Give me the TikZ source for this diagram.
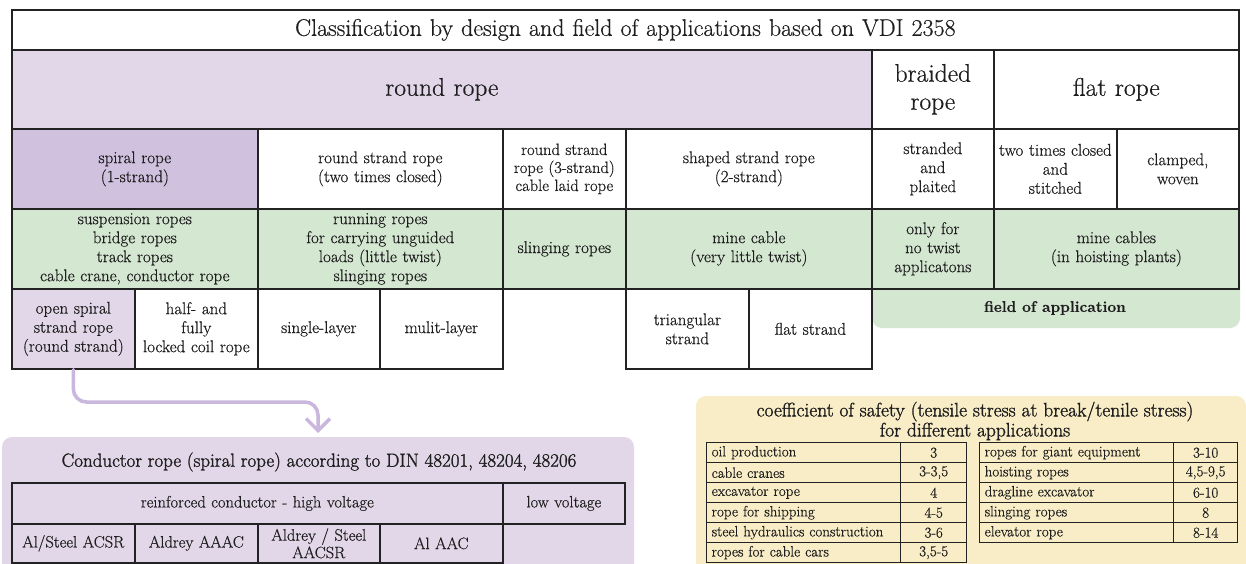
\documentclass[tikz,border=0pt]{standalone}
\usepackage{fontspec}
\setmainfont{Latin Modern Roman}[FakeBold=0.5]
\newfontfamily\semib{Latin Modern Roman}[FakeBold=1.4]
\usetikzlibrary{arrows.meta}
\definecolor{lavL}{HTML}{E2D7E8}
\definecolor{lavD}{HTML}{D0C2DF}
\definecolor{grn}{HTML}{D4E7D1}
\definecolor{yel}{HTML}{F8EDC6}
\definecolor{arr}{HTML}{C9B7DD}
\definecolor{ln}{HTML}{222222}
\definecolor{txt}{HTML}{1E1E1E}
\tikzset{
  tc/.style 2 args={draw=ln, line width=1.7pt, anchor=north west, inner sep=0pt,
    text width=#1pt, minimum height=#2pt, align=center, text=txt,
    font=\fontsize{17}{19}\selectfont},
  hdr/.style={font=\fontsize{25.5}{28}\selectfont},
  ctc/.style 2 args={tc={#1}{#2}, font=\fontsize{16.5}{17.5}\selectfont},
  yl/.style={draw=ln, line width=1.4pt, anchor=north west, inner xsep=5pt, inner ysep=0pt,
    text width=184pt, minimum height=20pt, align=left, text=txt,
    font=\fontsize{15}{15.5}\selectfont},
  yr/.style={draw=ln, line width=1.4pt, anchor=north west, inner sep=0pt,
    text width=#1pt, minimum height=20pt, align=center, text=txt,
    font=\fontsize{15}{15.5}\selectfont},
  arrowline/.style={draw=arr, line width=3.5pt, line cap=round, rounded corners=13pt,
    -{Straight Barb[length=12pt,width=24pt]}},
}
\begin{document}
\begin{tikzpicture}[x=1pt,y=-1pt]
\useasboundingbox (0,0) rectangle (1246,564);
\clip (0,0) rectangle (1246,564);
\fill[white] (0,0) rectangle (1246,564);

% background panels
\fill[grn, rounded corners=10pt] (872,270) rectangle (1240,328);
\fill[lavL, rounded corners=10pt] (2,437) rectangle (634,600);
\fill[yel, rounded corners=10pt] (696,396) rectangle (1246,600);

% title
\node[tc={1227}{40}, fill=white, font=\fontsize{24}{26}\selectfont] (title) at (11,9)
  {Classification by design and field of applications based on VDI 2358};

% row 2
\node[tc={860}{79}, fill=lavL, hdr] (round) at (11,49) {round rope};
\node[tc={122}{79}, fill=white, hdr] (braided) at (871,49) {braided\\rope};
\node[tc={245}{79}, fill=white, hdr] (flat) at (993,49) {flat rope};

% row 3
\node[tc={246}{80}, fill=lavD] (spiral) at (11,128) {spiral rope\\(1-strand)};
\node[tc={245}{80}, fill=white] (rstrand) at (257,128) {round strand rope\\(two times closed)};
\node[tc={123}{80}, fill=white, font=\fontsize{16.5}{18}\selectfont] (rthree) at (502,128) {round strand\\rope (3-strand)\\cable laid rope};
\node[tc={246}{80}, fill=white] (shaped) at (625,128) {shaped strand rope\\(2-strand)};
\node[tc={122}{80}, fill=white] (stranded) at (871,128) {stranded\\and\\plaited};
\node[tc={123}{80}, fill=white] (twotimes) at (993,128) {two times closed\\and\\stitched};
\node[tc={122}{80}, fill=white] (clamped) at (1116,128) {clamped,\\woven};

% row 4 (field of application)
\node[tc={246}{80}, fill=grn] (susp) at (11,208) {suspension ropes\\bridge ropes\\track ropes\\cable crane, conductor rope};
\node[tc={245}{80}, fill=grn] (running) at (257,208) {running ropes\\for carrying unguided\\loads (little twist)\\slinging ropes};
\node[tc={123}{80}, fill=grn] (sling) at (502,208) {slinging ropes};
\node[tc={246}{80}, fill=grn] (mine) at (625,208) {mine cable\\(very little twist)};
\node[tc={122}{80}, fill=grn] (onlyfor) at (871,208) {only for\\no twist\\applicatons};
\node[tc={245}{80}, fill=grn] (minecables) at (993,208) {mine cables\\(in hoisting plants)};

% row 5
\node[tc={123}{80}, fill=lavL] (openspiral) at (11,288) {open spiral\\strand rope\\(round strand)};
\node[tc={123}{80}, fill=white] (halffully) at (134,288) {half- and\\fully\\locked coil rope};
\node[tc={122}{80}, fill=white] (single) at (257,288) {single-layer};
\node[tc={123}{80}, fill=white] (multi) at (379,288) {mulit-layer};
\node[tc={123}{80}, fill=white] (triang) at (625,288) {triangular\\strand};
\node[tc={123}{80}, fill=white] (flatstrand) at (748,288) {flat strand};

\node[font=\bfseries\fontsize{15.5}{18}\selectfont, text=txt] (foa) at (1055,308) {field of application};

% arrow
\coordinate (bend) at (318,402);
\coordinate (arrend) at (318,433);
\draw[arrowline] (openspiral.south) |- (bend) -- (arrend);

% conductor panel
\node[font=\semib\fontsize{19}{20}\selectfont, text=txt] (condtitle) at (319,462)
  {Conductor rope (spiral rope) according to DIN 48201, 48204, 48206};
\node[ctc={491}{41}] (reinf) at (11,482) {reinforced conductor - high voltage};
\node[ctc={122}{41}] (lowv) at (502,482) {low voltage};
\node[ctc={123}{39}] (acsr) at (11,523) {Al/Steel ACSR};
\node[ctc={123}{39}] (aaac) at (134,523) {Aldrey AAAC};
\node[ctc={122}{39}] (aacsr) at (257,523) {Aldrey / Steel\\AACSR};
\node[ctc={123}{39}] (aac) at (379,523) {Al AAC};

% safety panel
\node[font=\semib\fontsize{19.5}{20}\selectfont, text=txt, align=center] (safetitle) at (975,421)
  {coefficient of safety (tensile stress at break/tenile stress)\\for different applications};

\node[yl] (l1) at (706,442) {oil production};
\node[yr=66] (v1) at (900,442) {3};
\node[yl] (l2) at (706,462) {cable cranes};
\node[yr=66] (v2) at (900,462) {3-3,5};
\node[yl] (l3) at (706,482) {excavator rope};
\node[yr=66] (v3) at (900,482) {4};
\node[yl] (l4) at (706,502) {rope for shipping};
\node[yr=66] (v4) at (900,502) {4-5};
\node[yl] (l5) at (706,522) {steel hydraulics construction};
\node[yr=66] (v5) at (900,522) {3-6};
\node[yl] (l6) at (706,542) {ropes for cable cars};
\node[yr=66] (v6) at (900,542) {3,5-5};

\node[yl] (r1) at (979,442) {ropes for giant equipment};
\node[yr=64] (w1) at (1173,442) {3-10};
\node[yl] (r2) at (979,462) {hoisting ropes};
\node[yr=64] (w2) at (1173,462) {4,5-9,5};
\node[yl] (r3) at (979,482) {dragline excavator};
\node[yr=64] (w3) at (1173,482) {6-10};
\node[yl] (r4) at (979,502) {slinging ropes};
\node[yr=64] (w4) at (1173,502) {8};
\node[yl] (r5) at (979,522) {elevator rope};
\node[yr=64] (w5) at (1173,522) {8-14};
\end{tikzpicture}
\end{document}
